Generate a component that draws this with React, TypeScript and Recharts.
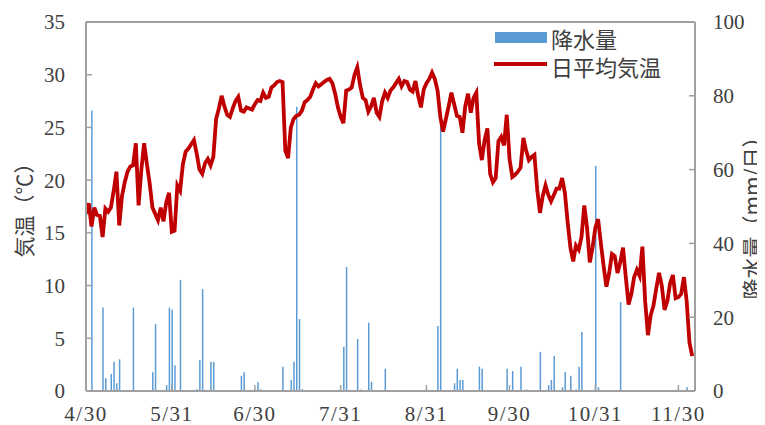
import React from 'react';
import { ComposedChart, Bar, Line, XAxis, YAxis, ReferenceLine, Legend, Label } from 'recharts';

const tickDays = [0, 31, 61, 92, 123, 153, 184, 214];
const tickLabels = ['4/30', '5/31', '6/30', '7/31', '8/31', '9/30', '10/31', '11/30'];
const tempTicks = [0, 5, 10, 15, 20, 25, 30, 35];
const rainTicks = [0, 20, 40, 60, 80, 100];

const temperature = [
  16.8, 17.8, 15.6, 17.4, 16.7, 16.6, 14.6, 17.3, 17.0, 17.4,
  19.0, 20.8, 15.7, 18.5, 19.8, 20.8, 21.3, 21.4, 23.5, 17.6,
  21.0, 23.5, 21.5, 19.7, 17.4, 16.8, 16.2, 17.4, 16.1, 17.9,
  18.8, 15.1, 15.2, 19.5, 19.0, 21.5, 22.7, 23.0, 23.4, 23.8,
  22.5, 21.0, 20.6, 21.6, 22.0, 21.4, 22.2, 25.8, 26.8, 28.0,
  27.0, 26.2, 26.0, 26.8, 27.5, 27.9, 26.6, 26.5, 26.9, 26.8,
  26.7, 27.2, 27.6, 27.5, 28.3, 27.8, 27.9, 28.8, 29.0, 29.3,
  29.4, 29.3, 22.8, 22.1, 25.0, 25.8, 26.1, 26.2, 26.6, 27.4,
  27.6, 27.9, 28.6, 29.2, 28.9, 29.1, 29.3, 29.5, 29.6, 29.2,
  28.2, 26.9, 26.0, 25.4, 28.5, 28.6, 28.8, 30.0, 30.7, 29.0,
  27.8, 27.6, 26.5, 27.0, 27.8, 26.4, 26.0, 27.5, 28.3, 27.8,
  28.5, 28.8, 29.2, 29.6, 28.9, 29.4, 29.3, 28.6, 28.4, 29.4,
  28.0, 26.9, 28.6, 29.2, 29.6, 30.2, 29.6, 28.5, 26.0, 24.6,
  25.8, 27.0, 28.3, 27.2, 26.1, 26.0, 24.5, 27.0, 28.2, 26.4,
  27.8, 28.3, 23.5, 21.9, 23.8, 24.9, 20.6, 19.8, 20.2, 23.7,
  24.1, 23.3, 26.2, 22.0, 20.3, 20.5, 20.8, 21.2, 24.0, 22.8,
  21.9, 22.2, 22.4, 19.1, 16.9, 18.5, 19.5, 18.6, 18.0, 18.6,
  19.2, 19.2, 20.2, 18.8, 16.0, 13.6, 12.3, 13.8, 13.4, 14.6,
  17.6, 15.5, 12.2, 13.6, 15.5, 16.3, 14.0, 11.8, 9.9, 11.2,
  13.0, 12.8, 11.2, 12.2, 13.6, 10.8, 8.2, 9.2, 10.8, 11.5,
  10.9, 13.7, 8.5, 5.3, 7.2, 8.1, 9.7, 11.2, 10.0, 7.7,
  8.5, 10.2, 11.0, 8.8, 8.9, 9.2, 10.8, 8.5, 4.6, 3.3,
];

const rainDays = [
  2, 6, 7, 9, 10, 11, 12, 17, 24, 25, 29, 30, 31, 32, 34, 40, 41, 42, 45, 46,
  56, 57, 62, 63, 71, 74, 75, 76, 77, 78, 93, 94, 98, 99, 102, 103, 104, 108,
  127, 128, 133, 134, 135, 136, 142, 143, 152, 154, 157, 159,
  164, 167, 168, 169, 172, 173, 175, 177, 178, 179, 184, 185, 193, 209, 217,
];
const rainAmounts = [
  76, 22.6, 3.5, 4.6, 7.9, 2.1, 8.6, 22.6, 5.1, 18.1, 1.6, 22.6, 22.0, 7.0, 30.1, 0.5, 8.4, 27.6, 7.9, 7.9,
  4.1, 5.1, 2.4, 0.5, 6.6, 3.0, 7.9, 77, 19.5, 0.5, 12, 33.6, 14.1, 0.4, 18.5, 2.5, 0.3, 6.0,
  17.6, 74.8, 2.1, 6.0, 3.0, 3.0, 6.6, 6.0, 6.0, 5.4, 6.6, 0.4,
  10.6, 1.6, 3.0, 9.5, 1.0, 5.1, 4.1, 0.4, 6.6, 16, 61, 1.0, 24.1, 0.3, 1.0,
];

const data = temperature.map((t, i) => ({ day: i, temp: t, rain: 0 }));
rainDays.forEach((d, k) => {
  data[d].rain = rainAmounts[k];
});

const NUM_FONT = '"Liberation Serif", "Times New Roman", serif';
const JP_FONT = '"Noto Sans CJK JP", "Noto Sans", sans-serif';
const TEXT = '#404040';
const AXIS = '#A0A0A0';
const BLUE = '#5B9BD5';
const RED = '#C00000';

const XTick = (props: any) => {
  const { x, y, payload } = props;
  const label = tickLabels[tickDays.indexOf(payload.value)] ?? '';
  return (
    <text x={x} y={y} dy="0.71em" textAnchor="middle" fill={TEXT}
      style={{ fontFamily: NUM_FONT, fontSize: 21, letterSpacing: 1.5 }}>{label}</text>
  );
};

const LeftTick = (props: any) => {
  const { x, y, payload } = props;
  return (
    <text x={x} y={y} dy="0.355em" textAnchor="end" fill={TEXT}
      style={{ fontFamily: NUM_FONT, fontSize: 21 }}>{payload.value}</text>
  );
};

const RightTick = (props: any) => {
  const { x, y, payload } = props;
  return (
    <text x={x} y={y} dy="0.355em" textAnchor="start" fill={TEXT}
      style={{ fontFamily: NUM_FONT, fontSize: 21 }}>{payload.value}</text>
  );
};

const LeftTitle = (props: any) => {
  const vb = props.viewBox;
  const cx = vb.x + 15;
  const cy = vb.y + vb.height / 2 - 1.5;
  return (
    <text x={cx} y={cy} transform={`rotate(-90, ${cx}, ${cy})`} textAnchor="middle" dominantBaseline="central"
      fill={TEXT} style={{ fontFamily: JP_FONT, fontSize: 21 }}>気温（℃）</text>
  );
};

const RightTitle = (props: any) => {
  const vb = props.viewBox;
  const cx = vb.x + 56;
  const cy = vb.y + vb.height / 2 + 6.5;
  return (
    <text x={cx} y={cy} transform={`rotate(-90, ${cx}, ${cy})`} textAnchor="middle" dominantBaseline="central"
      fill={TEXT} style={{ fontFamily: JP_FONT, fontSize: 21 }}>降水量（mm/日）</text>
  );
};

const LegendContent = () => (
  <svg width={230} height={60} style={{ display: 'block' }}>
    <rect x={7} y={10} width={52} height={11} fill={BLUE} />
    <text x={63} y={16} dominantBaseline="central" fill={TEXT} style={{ fontFamily: JP_FONT, fontSize: 22 }}>降水量</text>
    <line x1={6} x2={59} y1={42} y2={42} stroke={RED} strokeWidth={3.8} />
    <text x={63} y={44} dominantBaseline="central" fill={TEXT} style={{ fontFamily: JP_FONT, fontSize: 22 }}>日平均気温</text>
  </svg>
);

export default function App() {
  return (
    <div style={{ width: 757, height: 417 }}>
      <ComposedChart width={757} height={417} data={data} margin={{ top: 14, right: 0, bottom: 4, left: 0 }}
        style={{ overflow: 'visible' }}>
        <XAxis
          dataKey="day"
          type="number"
          domain={[0, 220]}
          ticks={tickDays}
          interval={0}
          height={30}
          tickSize={-6}
          tickMargin={21}
          axisLine={{ stroke: AXIS, strokeWidth: 2 }}
          tickLine={{ stroke: AXIS, strokeWidth: 1.5 }}
          tick={XTick}
          allowDataOverflow
        />
        <YAxis
          yAxisId="t"
          orientation="left"
          domain={[0, 35]}
          ticks={tempTicks}
          interval={0}
          width={78}
          tickSize={-6}
          tickMargin={27}
          axisLine={{ stroke: AXIS, strokeWidth: 2 }}
          tickLine={{ stroke: AXIS, strokeWidth: 1.5 }}
          tick={LeftTick}
          allowDataOverflow
        >
          <Label content={LeftTitle} />
        </YAxis>
        <YAxis
          yAxisId="r"
          orientation="right"
          domain={[0, 100]}
          ticks={rainTicks}
          interval={0}
          width={70}
          tickSize={-6}
          tickMargin={24}
          axisLine={{ stroke: AXIS, strokeWidth: 2 }}
          tickLine={{ stroke: AXIS, strokeWidth: 1.5 }}
          tick={RightTick}
          allowDataOverflow
        >
          <Label content={RightTitle} />
        </YAxis>
        <ReferenceLine yAxisId="t" y={35} stroke={AXIS} strokeWidth={2} />
        <Legend
          layout="vertical"
          align="center"
          verticalAlign="middle"
          content={LegendContent}
          wrapperStyle={{ position: 'absolute', left: 480, top: 14, width: 230, height: 60 }}
        />
        <Bar yAxisId="r" dataKey="rain" fill={BLUE} barSize={1.5} isAnimationActive={false} />
        <Line yAxisId="t" dataKey="temp" type="linear" stroke={RED} strokeWidth={3.8} dot={false}
          activeDot={false} isAnimationActive={false} />
      </ComposedChart>
    </div>
  );
}
